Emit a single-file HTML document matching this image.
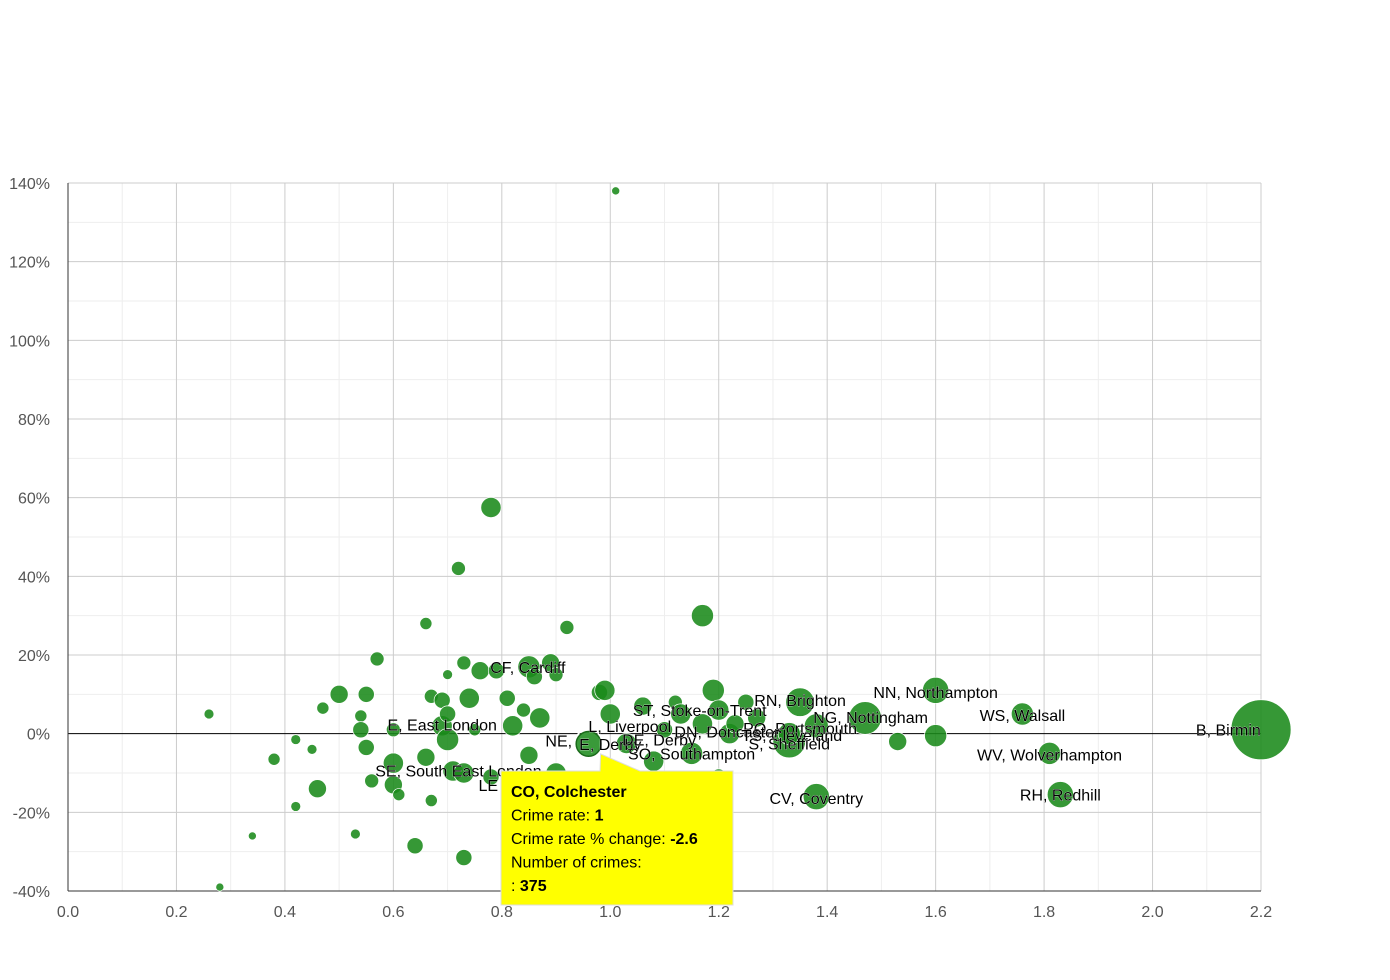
<!DOCTYPE html>
<html><head><meta charset="utf-8"><style>
body{margin:0;background:#fff;font-family:"Liberation Sans",Arial,sans-serif}
svg{display:block}
</style></head><body>
<svg id="chart" width="1390" height="980" viewBox="0 0 1390 980" xmlns="http://www.w3.org/2000/svg" font-family="Liberation Sans, Arial, sans-serif">
<g id="grid"></g>
<g id="axes"></g>
<g id="bubbles"></g>
<g id="labels"></g>
<g id="tip"></g>
</svg>
<script>
const xTicks=[0,0.2,0.4,0.6,0.8,1.0,1.2,1.4,1.6,1.8,2.0,2.2];
const xTickLabels=["0.0","0.2","0.4","0.6","0.8","1.0","1.2","1.4","1.6","1.8","2.0","2.2"];
const yTicks=[140,120,100,80,60,40,20,0,-20,-40];
const yTickLabels=["140%","120%","100%","80%","60%","40%","20%","0%","-20%","-40%"];
const crimeRate=[0.26,0.28,0.34,0.38,0.42,0.42,0.45,0.46,0.47,0.50,0.53,0.54,0.54,0.55,0.55,0.56,0.57,0.60,0.60,0.60,0.61,0.64,0.66,0.66,0.67,0.67,0.69,0.69,0.70,0.70,0.70,0.71,0.72,0.73,0.73,0.73,0.74,0.75,0.76,0.78,0.78,0.79,0.81,0.82,0.84,0.85,0.85,0.86,0.87,0.89,0.90,0.90,0.92,0.96,0.98,0.99,1.00,1.01,1.03,1.06,1.08,1.10,1.12,1.13,1.15,1.17,1.17,1.19,1.20,1.20,1.22,1.23,1.25,1.27,1.33,1.33,1.35,1.38,1.38,1.47,1.53,1.60,1.60,1.76,1.81,1.83,2.20];
const rateChange=[5,-39,-26,-6.5,-1.5,-18.5,-4,-14,6.5,10,-25.5,4.5,1,-3.5,10,-12,19,-7.5,-13,1,-15.5,-28.5,28,-6,9.5,-17,8.5,2,-1.5,15,5,-9.5,42,18,-31.5,-10,9,1,16,57.5,-11,16,9,2,6,-5.5,17,14.5,4,18,15,-10,27,-2.6,10.5,11,5,138,-2.5,7,-7,1,8,5,-5,30,2.5,11,6,-11,0,2.5,8,4,-2,0,8,-16,2,4,-2,11,-0.5,5,-5,-15.5,1];
const crimeCount=[60,40,40,90,60,60,60,200,90,200,60,90,160,160,160,120,120,250,200,120,90,160,90,200,120,90,160,250,300,60,160,250,120,120,160,250,250,90,200,250,160,160,160,250,120,200,300,160,250,200,120,250,120,375,160,250,250,40,250,200,250,160,120,250,300,300,250,300,250,160,250,200,160,200,650,300,500,420,350,650,200,420,300,300,300,420,2200];
const labelText=["CF, Cardiff","E, East London","SE, South East London","LE","L, Liverpool","NE,","E, Derby","DE, Derby","ST, Stoke-on-Trent","RN, Brighton","NN, Northampton","NG, Nottingham","PO, Portsmouth","DN, Doncaster","TS, Cleveland","S, Sheffield","SO, Southampton","WS, Walsall","WV, Wolverhampton","RH, Redhill","CV, Coventry","B, Birmingham"];
const labelX=[0.848,0.69,0.72,0.775,1.036,0.905,1.0,1.09,1.165,1.35,1.6,1.48,1.35,1.215,1.335,1.33,1.15,1.76,1.81,1.83,1.38,2.08];
const labelY=[17,2.3,-9.4,-13,2,-1.8,-2.6,-1.5,6,8.5,10.6,4.2,1.4,0.5,-0.3,-2.5,-5,4.8,-5.3,-15.5,-16.3,1];
const NS="http://www.w3.org/2000/svg";
const X0=68,X1=1261,Y0=183,Y1=891;
const xs=v=>X0+(v-0)/(2.2)*(X1-X0);
const ys=v=>Y1-(v+40)/180*(Y1-Y0);
const rs=c=>Math.max(3.5,Math.sqrt(c)*0.64);
function mk(tag,attrs,parent){const e=document.createElementNS(NS,tag);for(const k in attrs)e.setAttribute(k,attrs[k]);parent.appendChild(e);return e;}
const grid=document.getElementById('grid'),axes=document.getElementById('axes');
for(let v=0.1;v<2.2;v+=0.2){const l=mk('line',{x1:xs(v),x2:xs(v),y1:Y0,y2:Y1,stroke:'#eee'},grid);

}
for(let v=-30;v<140;v+=20){const l=mk('line',{x1:X0,x2:X1,y1:ys(v),y2:ys(v),stroke:'#eee'},grid);

}
xTicks.forEach((v,i)=>{const l=mk('line',{x1:xs(v),x2:xs(v),y1:Y0,y2:Y1,stroke:'#ccc'},grid);


const t=mk('text',{x:xs(v),y:917,'text-anchor':'middle','font-size':16,fill:'#555'},axes);t.textContent=xTickLabels[i];

});
yTicks.forEach((v,i)=>{const l=mk('line',{x1:X0,x2:X1,y1:ys(v),y2:ys(v),stroke:v===0?'#000':'#ccc'},grid);


const t=mk('text',{x:50,y:ys(v)+6,'text-anchor':'end','font-size':16,fill:'#555'},axes);t.textContent=yTickLabels[i];

});
const ax=mk('line',{x1:X0,x2:X0,y1:Y0,y2:Y1,stroke:'#333'},axes);


const bx=mk('line',{x1:X0,x2:X1,y1:Y1,y2:Y1,stroke:'#333'},axes);


const bg=document.getElementById('bubbles');
crimeRate.forEach((v,i)=>{const hl=i===53;const c=mk('circle',{cx:xs(v),cy:ys(rateChange[i]),r:rs(crimeCount[i]),fill:hl?'#3a9a3a':'#1a8a1a','fill-opacity':hl?1:0.88,stroke:hl?'#1a6a1a':'#fff','stroke-width':hl?1.5:0.7},bg);


if(hl){const o=mk('circle',{cx:xs(v),cy:ys(rateChange[i]),r:rs(crimeCount[i])+2,fill:'none',stroke:'#fff','stroke-width':1.5},bg);

}});
const lg=document.getElementById('labels');
labelText.forEach((s,i)=>{const last=i===labelText.length-1;const t=mk('text',{x:xs(labelX[i]),y:ys(labelY[i])+6,'text-anchor':last?'start':'middle','font-size':16,fill:'#000',stroke:'#fff','stroke-width':0.4,'paint-order':'stroke'},lg);t.textContent=s;

});
const cp=mk('clipPath',{id:'cl'},document.getElementById('chart'));mk('rect',{x:0,y:0,width:1261,height:980},cp);lg.setAttribute('clip-path','url(#cl)');
const tip=document.getElementById('tip');
const px=xs(0.96),py=ys(-2.6);
const p=mk('path',{d:`M501 771 H600 L${px+12} ${py+10} L640 771 H733 V905 H501 Z`,fill:'#ffff00',stroke:'#ddd','stroke-width':1},tip);


const lines=[["CO, Colchester",""],["Crime rate: ","1"],["Crime rate % change: ","-2.6"],["Number of crimes:",""],[": ","375"]];
lines.forEach((l,i)=>{const t=mk('text',{x:511,y:797+i*23.5,'font-size':16,fill:'#000'},tip);


if(i===0){t.setAttribute('font-weight','bold');t.textContent=l[0];}else{const a=mk('tspan',{},t);a.textContent=l[0];const b=mk('tspan',{'font-weight':'bold'},t);b.textContent=l[1];}});
</script>
</body></html>
